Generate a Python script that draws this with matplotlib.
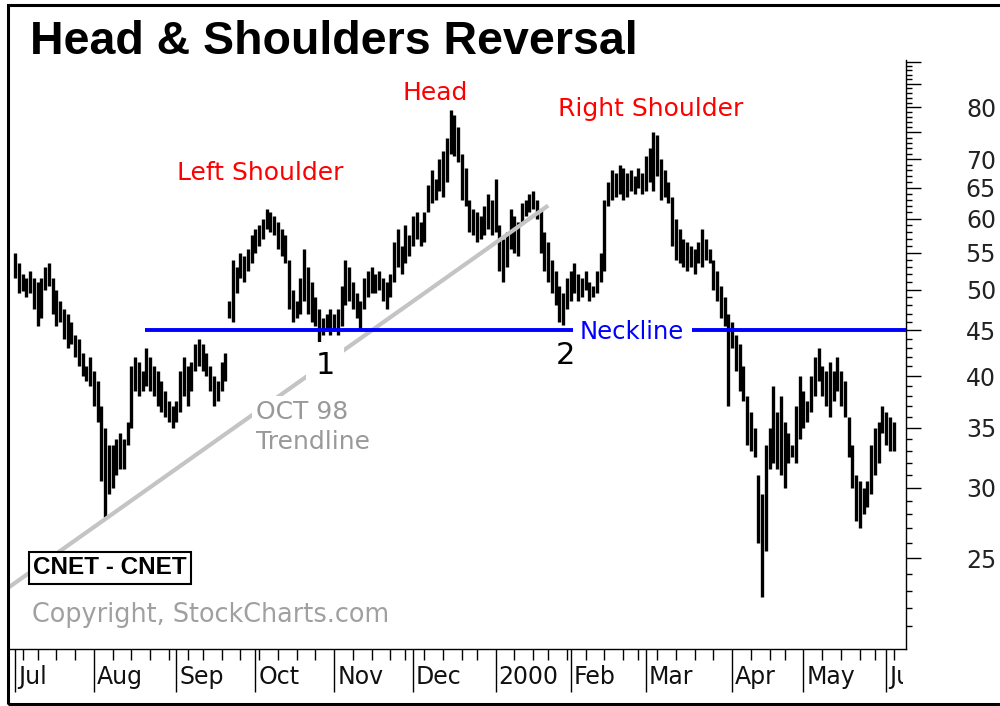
import matplotlib
matplotlib.use('Agg')
import matplotlib.pyplot as plt
import matplotlib.transforms as mtransforms
from matplotlib.patches import Rectangle
from matplotlib.ticker import FixedLocator, NullFormatter, FuncFormatter

# ---------------- data ----------------
highs = [
    55.0, 53.5, 52.0, 51.5, 52.5, 51.5, 51.0, 51.5, 53.0, 53.5,
    51.5, 50.0, 48.5, 47.5, 47.0, 46.0, 44.5, 44.0, 42.5, 41.0,
    42.0, 40.5, 39.5, 37.0, 35.0, 33.5, 33.5, 34.0, 34.5, 34.0,
    35.5, 41.0, 42.0, 41.5, 40.5, 43.0, 42.0, 41.0, 40.5, 39.5,
    38.5, 37.5, 37.0, 37.5, 40.5, 42.0, 41.0, 41.5, 43.5, 44.0,
    43.5, 42.5, 41.0, 40.0, 39.5, 41.5, 42.5, 48.5, 54.0, 53.0,
    55.0, 54.5, 55.5, 57.5, 58.5, 59.0, 60.0, 61.5, 61.0, 60.5,
    59.5, 58.5, 57.5, 54.0, 50.0, 48.5, 51.5, 55.5, 53.0, 51.0,
    49.0, 47.5, 46.5, 47.0, 47.5, 47.0, 47.5, 50.5, 54.0, 53.0,
    51.0, 49.5, 48.5, 51.5, 52.5, 53.0, 52.0, 52.5, 51.5, 51.0,
    52.0, 56.5, 58.5, 56.0, 59.0, 57.5, 60.5, 61.0, 59.5, 61.0,
    65.5, 68.0, 66.5, 70.0, 71.5, 74.0, 79.5, 78.5, 76.0, 71.0,
    68.5, 63.0, 61.5, 61.0, 60.5, 62.0, 64.0, 63.0, 66.5, 59.0,
    57.0, 58.0, 61.5, 60.5, 59.5, 62.5, 63.0, 64.0, 64.5, 63.0,
    61.5, 58.0, 56.5, 54.0, 52.5, 50.5, 49.5, 51.5, 52.5, 53.5,
    52.0, 51.5, 52.5, 51.0, 50.5, 52.5, 55.0, 63.0, 66.0, 68.0,
    67.5, 69.0, 68.5, 67.5, 68.0, 67.0, 68.5, 67.5, 70.5, 72.0,
    75.0, 74.5, 70.0, 68.0, 66.0, 63.5, 60.0, 58.5, 57.0, 56.5,
    56.0, 55.5, 56.5, 58.5, 57.0, 55.5, 54.0, 52.5, 50.5, 49.0,
    47.0, 46.0, 44.5, 43.5, 41.0, 38.0, 36.5, 35.0, 31.0, 29.5,
    33.5, 35.0, 39.0, 36.5, 38.0, 35.5, 34.5, 33.5, 37.0, 40.0,
    38.5, 37.5, 40.0, 42.0, 43.0, 41.0, 40.5, 41.5, 40.5, 42.0,
    40.5, 39.5, 36.0, 33.5, 31.0, 30.5, 30.0, 30.5, 33.5, 35.0,
    35.5, 37.0, 36.5, 36.0, 35.5,
]
lows = [
    51.5, 49.5, 49.8, 49.0, 49.5, 47.5, 45.5, 46.5, 50.0, 50.5,
    47.0, 45.5, 46.0, 44.0, 43.0, 43.5, 42.0, 41.0, 40.0, 39.5,
    39.0, 37.0, 35.5, 30.5, 27.8, 29.5, 30.0, 31.0, 31.5, 31.5,
    33.5, 35.0, 38.5, 38.0, 38.5, 39.0, 38.5, 38.0, 37.0, 36.5,
    36.0, 35.5, 35.0, 35.5, 36.5, 38.0, 37.0, 38.5, 40.5, 41.0,
    40.5, 40.0, 38.5, 37.0, 37.5, 38.5, 39.5, 46.5, 46.0, 49.5,
    51.5, 51.0, 52.5, 53.5, 55.0, 56.0, 57.0, 58.5, 58.0, 57.5,
    55.5, 54.5, 53.5, 47.5, 46.0, 46.5, 47.0, 48.5, 47.0, 46.0,
    45.5, 43.5, 44.5, 45.0, 44.5, 45.0, 44.5, 45.5, 48.0, 48.5,
    47.5, 46.5, 45.0, 47.5, 49.0, 49.5, 49.5, 50.0, 48.5, 47.5,
    49.0, 51.0, 53.0, 52.0, 53.5, 54.5, 56.0, 57.0, 56.0, 56.5,
    61.0, 62.5, 63.0, 64.5, 63.5, 66.0, 71.0, 70.5, 69.5, 63.0,
    62.0, 58.0, 57.5, 56.5, 57.0, 57.5, 58.5, 57.5, 58.0, 52.5,
    51.0, 53.0, 55.5, 55.0, 54.5, 59.5, 60.5, 61.0, 61.5, 60.0,
    55.0, 52.5, 51.0, 49.5, 48.0, 46.0, 45.6, 47.5, 48.5, 49.5,
    48.5, 49.0, 50.0, 48.5, 49.0, 49.5, 51.0, 52.5, 62.0, 63.0,
    63.5, 64.0, 63.0, 63.5, 64.5, 64.0, 65.0, 64.0, 64.5, 66.0,
    64.5, 67.0, 63.0, 63.5, 62.5, 56.0, 54.0, 53.5, 53.0, 52.5,
    53.0, 52.0, 53.5, 53.0, 54.0, 53.5, 50.0, 48.5, 46.5, 45.5,
    37.0, 43.0, 40.5, 38.5, 37.5, 33.5, 33.0, 32.5, 26.0, 22.6,
    25.5, 31.5, 32.0, 31.5, 31.0, 30.0, 32.0, 32.5, 32.0, 34.0,
    35.0, 35.5, 36.5, 38.0, 39.5, 38.0, 37.0, 36.0, 37.5, 38.5,
    37.0, 36.0, 32.5, 30.0, 27.5, 27.0, 28.0, 28.5, 29.5, 31.0,
    32.0, 34.5, 33.5, 33.0, 33.0,
]
days = list(range(len(highs)))

month_pos = [0, 21, 43, 64, 85, 106, 128, 148, 168, 191, 210, 232]
month_labels = ['Jul', 'Aug', 'Sep', 'Oct', 'Nov', 'Dec', '2000', 'Feb',
                'Mar', 'Apr', 'May', 'Jun']
week_pos = [2, 6, 11, 16, 26, 31, 36, 41, 46, 50, 55, 60, 65, 70, 75, 80,
            90, 95, 100, 104, 109, 114, 119, 123, 133, 138, 142, 147,
            152, 157, 162, 166, 171, 176, 181, 186, 196, 201, 205,
            215, 220, 225, 229, 234]
price_major = [25, 30, 35, 40, 45, 50, 55, 60, 65, 70, 75, 80, 85, 90]
price_labels = [25, 30, 35, 40, 45, 50, 55, 60, 65, 70, 80]

neckline_level = 45.0
neck_start = 34.6
trend_x = [-1.6, 142.0]
trend_y = [23.2, 62.1]

# ---------------- figure ----------------
W, H = 1000, 706
fig = plt.figure(figsize=(W / 100, H / 100), dpi=100)
fig.patch.set_facecolor('white')


def fx(px):
    return px / W


def fy(py):
    return 1 - py / H


ax = fig.add_axes([fx(9), fy(649), fx(906) - fx(9), fy(60) - fy(649)])
ax.set_yscale('log')
ax.set_ylim(19.78, 90.4)
ax.set_xlim(-1.6, 237.3)
ax.set_facecolor('white')

for s in ('top', 'left'):
    ax.spines[s].set_visible(False)
ax.spines['right'].set_linewidth(1.0)
ax.spines['bottom'].set_linewidth(1.0)

# bars
ax.vlines(days, lows, highs, color='black', lw=2.4, zorder=2)

# trendline and neckline
ax.plot(trend_x, trend_y, color='#c4c4c4', lw=3.0, zorder=3,
        solid_capstyle='butt')
ax.hlines(neckline_level, neck_start, 240, color='#0000ff', lw=2.8, zorder=4)

# y axis on the right
ax.yaxis.tick_right()
ax.yaxis.set_major_locator(FixedLocator(price_major))
ax.yaxis.set_minor_locator(FixedLocator([v for v in range(20, 91) if v % 5]))
ax.yaxis.set_major_formatter(
    FuncFormatter(lambda v, p: '%d' % round(v) if round(v) in price_labels else ''))
ax.yaxis.set_minor_formatter(NullFormatter())
ax.tick_params(axis='y', which='major', direction='out', length=10.8,
               width=1.0, pad=54, labelsize=17, labelcolor='#222222')
ax.tick_params(axis='y', which='minor', direction='out', length=4.5, width=1.0)
plt.setp(ax.get_yticklabels(), ha='right')

# x axis
ax.xaxis.set_major_locator(FixedLocator(month_pos))
ax.xaxis.set_minor_locator(FixedLocator(week_pos))
ax.xaxis.set_major_formatter(NullFormatter())
ax.xaxis.set_minor_formatter(NullFormatter())
ax.tick_params(axis='x', which='major', direction='out', length=31, width=1.0)
ax.tick_params(axis='x', which='minor', direction='out', length=8, width=1.0)

lab_trans = mtransforms.blended_transform_factory(ax.transData, ax.transAxes) + \
    mtransforms.ScaledTranslation(3 / 100, 0, fig.dpi_scale_trans)
clip = mtransforms.Bbox.from_extents(0, 0, 903, H)
for p, lab in zip(month_pos, month_labels):
    t = ax.text(p, -28 / 589, lab, transform=lab_trans, ha='left',
                va='center', fontsize=17, color='#111111', clip_on=True)
    t.set_clip_box(clip)

# annotations
white = dict(boxstyle='square,pad=0.3', fc='white', ec='none')
ax.text(65.3, 67.6, 'Left Shoulder', color='#ff0000', fontsize=18,
        ha='center', va='center', zorder=6)
ax.text(111.9, 83.1, 'Head', color='#ff0000', fontsize=18,
        ha='center', va='center', zorder=6)
ax.text(169.4, 79.7, 'Right Shoulder', color='#ff0000', fontsize=18,
        ha='center', va='center', zorder=6)
ax.text(150.5, 44.8, 'Neckline', color='#0000ff', fontsize=17.5,
        ha='left', va='center', bbox=white, zorder=6)
ax.text(82.6, 41.1, '1', color='black', fontsize=22, ha='center',
        va='center', bbox=white, zorder=6)
ax.text(146.5, 42.2, '2', color='black', fontsize=22, ha='center',
        va='center', zorder=6)
ax.text(64.2, 35.1, 'OCT 98\nTrendline', color='#999999', fontsize=18,
        ha='left', va='center', linespacing=1.3,
        bbox=dict(boxstyle='square,pad=0.15', fc='white', ec='none'), zorder=6)

# figure texts
fig.text(fx(30), fy(42), 'Head & Shoulders Reversal', fontsize=33.5,
         fontweight='bold', family='Liberation Sans', ha='left', va='center')
fig.text(fx(33), fy(568), 'CNET - CNET', fontsize=17.5, fontweight='bold',
         family='Liberation Sans', ha='left', va='center', zorder=7,
         bbox=dict(boxstyle='square,pad=0.18', fc='white', ec='black', lw=1.5))
fig.text(fx(32), fy(615), 'Copyright, StockCharts.com', fontsize=18.4,
         color='#a0a0a0', ha='left', va='center')

# outer frame
fig.add_artist(Rectangle((fx(8), fy(704)), 1.0, fy(5) - fy(704),
                         transform=fig.transFigure, fill=False,
                         ec='black', lw=2.2))

fig.savefig('out.png', dpi=100, facecolor='white')
